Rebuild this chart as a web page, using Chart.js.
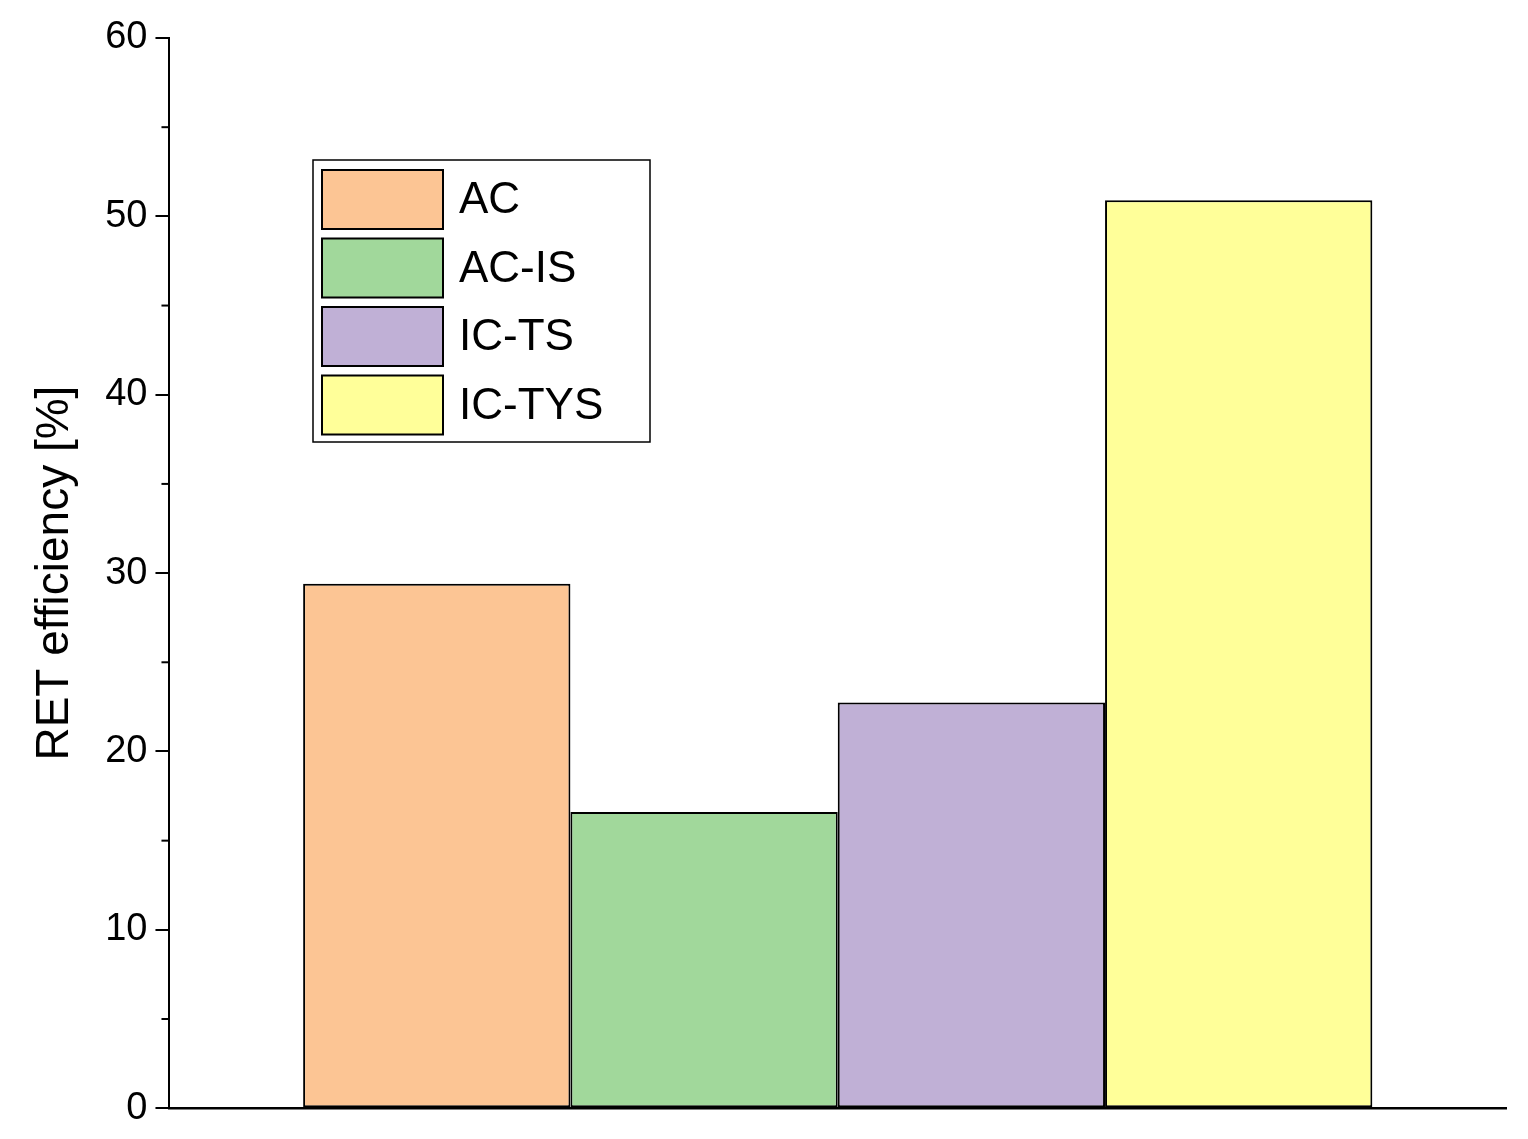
<!DOCTYPE html>
<html><head><meta charset="utf-8">
<script src="https://cdn.jsdelivr.net/npm/chart.js@4"></script>
<style>html,body{margin:0;padding:0;background:#fff}#w{width:1528px;height:1139px}</style>
</head><body><div id="w"><canvas id="c"></canvas></div>
<script>
const categories = ["AC", "AC-IS", "IC-TS", "IC-TYS"];
const values = [29.4, 16.6, 22.75, 50.9];
const colors = ["#fcc594", "#a1d89b", "#c0b0d6", "#ffff99"];
const yTicks = [0, 10, 20, 30, 40, 50, 60];
const F = "Liberation Sans, Arial, sans-serif";

const extras = {
  id: 'extras',
  afterDraw(chart) {
    const ctx = chart.ctx, y = chart.scales.y;
    ctx.save();
    ctx.strokeStyle = '#000'; ctx.lineWidth = 2;
    for (let v = 5; v < 60; v += 10) {
      const p = y.getPixelForValue(v);
      ctx.beginPath(); ctx.moveTo(y.right - 8, p); ctx.lineTo(y.right, p); ctx.stroke();
    }
    const lx = 313, ly = 160, lw = 337, lh = 282;
    ctx.lineWidth = 1.5; ctx.strokeStyle = '#000';
    ctx.fillStyle = '#fff'; ctx.fillRect(lx, ly, lw, lh); ctx.strokeRect(lx, ly, lw, lh);
    ctx.font = '44px ' + F; ctx.textBaseline = 'middle';
    categories.forEach((c, i) => {
      const by = 170 + i * 68.5;
      ctx.fillStyle = colors[i]; ctx.fillRect(322, by, 121, 59);
      ctx.lineWidth = 2; ctx.strokeRect(322, by, 121, 59);
      ctx.fillStyle = '#000'; ctx.fillText(c, 459, by + 31);
    });
    ctx.restore();
  }
};

new Chart(document.getElementById('c'), {
  type: 'bar',
  data: {
    labels: [''],
    datasets: categories.map((c, i) => ({
      label: c, data: [values[i]], backgroundColor: colors[i],
      borderColor: '#000', borderWidth: 2, borderSkipped: false,
      barPercentage: 1, categoryPercentage: 0.8
    }))
  },
  options: {
    responsive: true, maintainAspectRatio: false, animation: false,
    layout: { padding: { top: 38, right: 22, bottom: 30, left: 24 } },
    plugins: { legend: { display: false }, tooltip: { enabled: false } },
    scales: {
      x: {
        grid: { display: false, drawTicks: false },
        border: { color: '#000', width: 2.5 },
        ticks: { display: false }
      },
      y: {
        min: 0, max: 60,
        afterBuildTicks: s => { s.ticks = yTicks.map(v => ({ value: v })); },
        grid: { display: true, drawOnChartArea: false, drawTicks: true, tickLength: 14, color: '#000', lineWidth: 2 },
        border: { color: '#000', width: 2 },
        ticks: { color: '#000', font: { size: 38, family: F }, padding: 8 },
        title: { display: true, text: 'RET efficiency [%]', color: '#000', font: { size: 46, family: F }, padding: { bottom: 14 } }
      }
    }
  },
  plugins: [extras]
});
</script></body></html>
